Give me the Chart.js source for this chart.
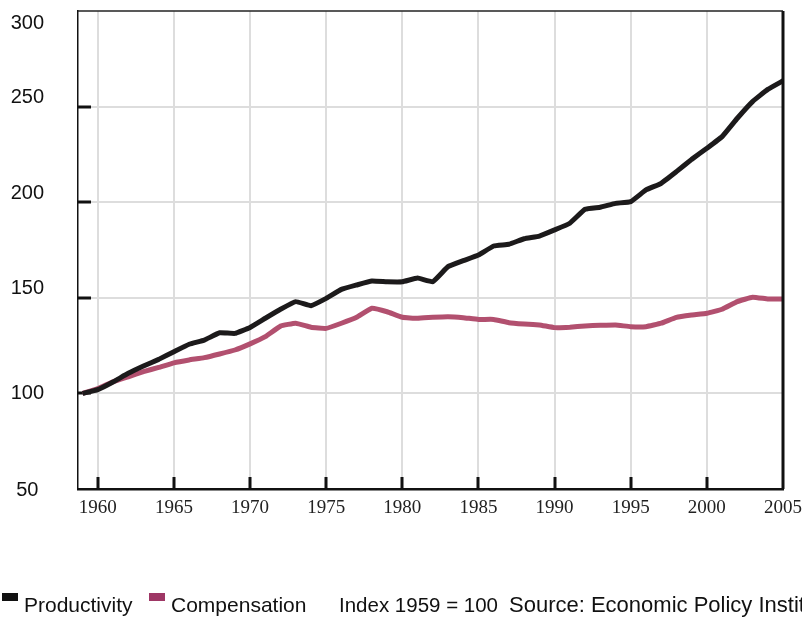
<!DOCTYPE html>
<html>
<head>
<meta charset="utf-8">
<script src="https://cdn.jsdelivr.net/npm/chart.js@4"></script>
<style>
  html, body { margin: 0; padding: 0; background: #fff; }
  #wrap { position: relative; width: 802px; height: 617px; overflow: hidden; }
  #chart { position: absolute; left: 0; top: 0; }
  .leg { position: absolute; top: 593px; font: 21px "Liberation Sans", Arial, sans-serif; line-height: 24px; color: #111; white-space: nowrap; }
  .box { position: absolute; top: 593px; width: 16px; height: 8px; }
</style>
</head>
<body>
<div id="wrap">
  <canvas id="chart" width="802" height="617"></canvas>
  <div class="box" style="left:2px; background:#111;"></div>
  <div class="leg" style="left:24px;">Productivity</div>
  <div class="box" style="left:149px; background:#9e3765;"></div>
  <div class="leg" style="left:171px;">Compensation</div>
  <div class="leg" style="left:339px; font-size:20.5px;">Index 1959 = 100</div>
  <div class="leg" style="left:509px; font-size:22px;">Source: Economic Policy Institute</div>
</div>
<script>
var years = [];
for (var yr = 1959; yr <= 2005; yr++) years.push(yr);

var productivity = [
    100, 102, 106, 110.5, 114.3, 117.8, 121.8, 125.7, 127.9, 131.7,
    131.4, 134.5, 139.3, 144, 148, 145.9, 149.7, 154.4, 156.7, 158.8,
    158.4, 158.4, 160.3, 158.4, 166.3, 169.4, 172.4, 177.1, 178, 180.9,
    182.3, 185.5, 189, 196.3, 197.4, 199.4, 200.3, 206.4, 209.9, 216,
    222.4, 228.2, 234.3, 243.9, 252.6, 259, 263.5
];

var compensation = [
    100, 102.5, 106.1, 108.7, 111.4, 113.6, 116, 117.5, 118.7, 120.6,
    122.7, 125.9, 129.7, 135.2, 136.7, 134.6, 134, 136.7, 139.8, 144.5,
    142.7, 139.8, 139.3, 139.8, 140.1, 139.6, 138.7, 138.7, 137, 136.3,
    135.8, 134.4, 134.6, 135.3, 135.6, 135.8, 134.9, 134.9, 136.7, 139.8,
    141, 141.9, 144, 148, 150.3, 149.4, 149.4
];

var xTickLabels = [1960, 1965, 1970, 1975, 1980, 1985, 1990, 1995, 2000, 2005];
var yTickLabels = [50, 100, 150, 200, 250, 300];
// the original's value labels don't sit exactly on their gridlines
var yLabelNudge = [1, 0, -9, -9, -9, 12];

function toPoints(values) {
    return values.map(function(v, i) { return { x: years[i], y: v }; });
}

var framePlugin = {
    id: 'frame',
    beforeDraw: function(chart) {
        var items = chart.scales.y.getLabelItems();
        if (items._nudged) return;
        items.forEach(function(it, i) {
            it.options.translation[1] += yLabelNudge[i] || 0;
        });
        items._nudged = true;
    },
    beforeDatasetsDraw: function(chart) {
        var ctx = chart.ctx, a = chart.chartArea;
        var x = chart.scales.x, y = chart.scales.y;
        ctx.save();
        ctx.strokeStyle = '#111';
        ctx.lineWidth = 3;
        ctx.beginPath();
        xTickLabels.forEach(function(v) {
            if (v === 2005) return;
            var px = Math.round(x.getPixelForValue(v));
            ctx.moveTo(px, a.bottom);
            ctx.lineTo(px, a.bottom - 12);
        });
        yTickLabels.forEach(function(v) {
            if (v === 50 || v === 300) return;
            var py = Math.round(y.getPixelForValue(v));
            ctx.moveTo(a.left, py);
            ctx.lineTo(a.left + 13, py);
        });
        ctx.stroke();
        ctx.restore();
    },
    afterDraw: function(chart) {
        var ctx = chart.ctx, a = chart.chartArea;
        ctx.save();
        ctx.strokeStyle = '#222';
        ctx.lineWidth = 1.5;
        ctx.beginPath();
        ctx.moveTo(a.left, a.top);
        ctx.lineTo(a.right, a.top);
        ctx.stroke();
        ctx.strokeStyle = '#111';
        ctx.lineWidth = 3;
        ctx.beginPath();
        ctx.moveTo(a.right, a.top);
        ctx.lineTo(a.right, a.bottom);
        ctx.stroke();
        ctx.restore();
    }
};

var chart = new Chart(document.getElementById('chart'), {
    type: 'line',
    data: {
        datasets: [
            {
                label: 'Productivity',
                data: toPoints(productivity),
                borderColor: '#1c1a1b',
                borderWidth: 5,
                pointRadius: 0,
                tension: 0.1,
                borderJoinStyle: 'round'
            },
            {
                label: 'Compensation',
                data: toPoints(compensation),
                borderColor: '#b2506f',
                borderWidth: 5,
                pointRadius: 0,
                tension: 0.1,
                borderJoinStyle: 'round'
            }
        ]
    },
    options: {
        responsive: false,
        animation: false,
        layout: { padding: { left: 0, top: 11, right: 19, bottom: 98 } },
        plugins: {
            legend: { display: false },
            tooltip: { enabled: false }
        },
        scales: {
            x: {
                type: 'linear',
                min: 1958.7,
                max: 2005,
                afterBuildTicks: function(scale) {
                    scale.ticks = xTickLabels.map(function(v) { return { value: v }; });
                },
                afterFit: function(scale) {
                    scale.height = 30;
                    scale.paddingLeft = 0;
                    scale.paddingRight = 0;
                },
                grid: {
                    drawTicks: false,
                    lineWidth: 2,
                    color: function(c) { return c.tick && c.tick.value === 2005 ? 'rgba(0,0,0,0)' : '#dddddd'; }
                },
                border: { display: true, color: '#111', width: 2.5 },
                ticks: {
                    padding: 8,
                    maxRotation: 0,
                    autoSkip: false,
                    color: '#222',
                    font: { family: '"Liberation Serif", "DejaVu Serif", serif', size: 19 },
                    callback: function(v) { return String(v); }
                }
            },
            y: {
                min: 50,
                max: 300,
                afterBuildTicks: function(scale) {
                    scale.ticks = yTickLabels.map(function(v) { return { value: v }; });
                },
                afterFit: function(scale) {
                    scale.width = 78;
                    scale.paddingTop = 0;
                    scale.paddingBottom = 0;
                },
                grid: {
                    drawTicks: false,
                    lineWidth: 2,
                    color: function(c) {
                        var v = c.tick && c.tick.value;
                        return (v === 50 || v === 300) ? 'rgba(0,0,0,0)' : '#dddddd';
                    }
                },
                border: { display: true, color: '#111', width: 1.5 },
                ticks: {
                    padding: 34,
                    crossAlign: 'center',
                    color: '#111',
                    font: { family: '"Liberation Sans", Arial, sans-serif', size: 20 },
                    callback: function(v) { return String(v); }
                }
            }
        }
    },
    plugins: [framePlugin]
});
</script>
</body>
</html>
